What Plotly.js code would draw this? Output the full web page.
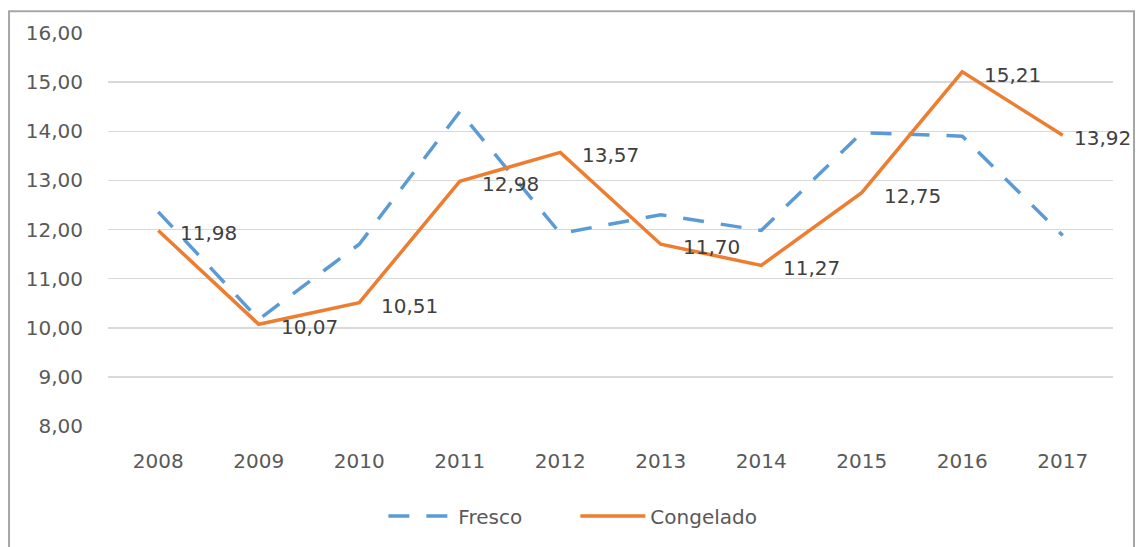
<!DOCTYPE html>
<html>
<head>
<meta charset="utf-8">
<script src="https://cdn.plot.ly/plotly-3.0.1.min.js"></script>
<style>
  html, body { margin: 0; padding: 0; background: #fff; }
  #chart { width: 1136px; height: 547px; }
</style>
</head>
<body>
<div id="chart"></div>
<script>
const years = ['2008','2009','2010','2011','2012','2013','2014','2015','2016','2017'];
const fresco = [12.36, 10.17, 11.70, 14.40, 11.92, 12.30, 11.98, 13.97, 13.90, 11.88];
const congelado = [11.98, 10.07, 10.51, 12.98, 13.57, 11.70, 11.27, 12.75, 15.21, 13.92];
const yTicks = [8, 9, 10, 11, 12, 13, 14, 15, 16];
const yTickText = ['8,00','9,00','10,00','11,00','12,00','13,00','14,00','15,00','16,00'];

const FONT = 'DejaVu Sans, sans-serif';
const fmt = v => v.toFixed(2).replace('.', ',');

const traces = [
  {
    x: years, y: fresco, name: 'Fresco', type: 'scatter', mode: 'lines',
    line: { color: '#5B9BD5', width: 3.5, dash: '21px,17px' },
    hoverinfo: 'skip'
  },
  {
    x: years, y: congelado, name: 'Congelado', type: 'scatter', mode: 'lines',
    line: { color: '#ED7D31', width: 3.5 },
    hoverinfo: 'skip'
  }
];

// category axis: annotations are placed by category index
const annotations = congelado.map((v, i) => ({
  x: i, y: v, xref: 'x', yref: 'y',
  text: fmt(v), showarrow: false,
  xanchor: 'left', yanchor: 'middle',
  xshift: i === congelado.length - 1 ? 9 : 20, yshift: -3,
  font: { family: FONT, size: 20, color: '#404040' }
}));

const layout = {
  width: 1136, height: 547,
  margin: { l: 107.5, r: 23, t: 33, b: 116 },
  paper_bgcolor: '#ffffff', plot_bgcolor: '#ffffff',
  showlegend: true,
  legend: {
    orientation: 'h', x: 0.274, xanchor: 'left', y: -0.229, yanchor: 'middle',
    font: { family: FONT, size: 20, color: '#595959' },
    itemwidth: 65, entrywidth: 112, entrywidthmode: 'pixels', tracegroupgap: 0
  },
  xaxis: {
    type: 'category', categoryorder: 'array', categoryarray: years,
    range: [-0.5, years.length - 0.5],
    showgrid: false, zeroline: false, showline: false, ticks: '',
    tickfont: { family: FONT, size: 20, color: '#595959' },
    ticklabelstandoff: 21, fixedrange: true
  },
  yaxis: {
    range: [8, 16], tickvals: yTicks, ticktext: yTickText,
    showgrid: true, gridcolor: '#d9d9d9', gridwidth: 1.5,
    zeroline: false, showline: false, ticks: '',
    tickfont: { family: FONT, size: 20, color: '#595959' },
    ticklabelstandoff: 24, fixedrange: true
  },
  annotations: annotations,
  shapes: [{
    type: 'rect', xref: 'paper', yref: 'paper',
    x0: (8.5 - 107.5) / 1005.5, x1: (1134 - 107.5) / 1005.5,
    y0: -0.4, y1: (431 - 11) / 398,
    line: { color: '#a6a6a6', width: 2 }, fillcolor: 'rgba(0,0,0,0)',
    layer: 'below'
  }]
};

Plotly.newPlot('chart', traces, layout, { displayModeBar: false, staticPlot: true });
</script>
</body>
</html>
